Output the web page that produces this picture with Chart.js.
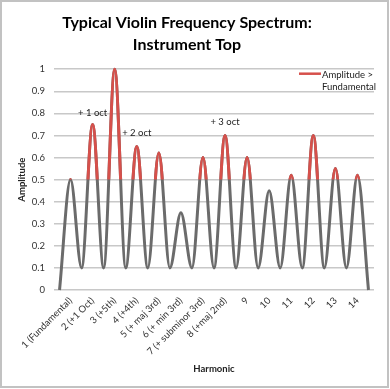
<!DOCTYPE html>
<html>
<head>
<meta charset="utf-8">
<script src="https://cdn.jsdelivr.net/npm/chart.js@4/dist/chart.umd.min.js"></script>
<style>
  html, body { margin: 0; padding: 0; background: #fff; }
  canvas { display: block; }
</style>
</head>
<body>
<canvas id="c" width="390" height="389"></canvas>
<script>
// ---- data ----
const harmonicLabels = ['1 (Fundamental)', '2 (+1 Oct)', '3 (+5th)', '4 (+4th)', '5 (+ maj 3rd)',
  '6 (+ min 3rd)', '7 (+ subminor 3rd)', '8 (+maj 2nd)', '9', '10', '11', '12', '13', '14'];
const harmonicNumbers = [1, 2, 3, 4, 5, 6, 7, 8, 9, 10, 11, 12, 13, 14];
const peakAmplitudes = [0.5, 0.75, 1.0, 0.65, 0.62, 0.35, 0.6, 0.7, 0.6, 0.45, 0.52, 0.7, 0.55, 0.52];
// troughs: before harmonic 1, between each pair, after harmonic 14
const troughPositions = [0.5, 1.5, 2.5, 3.5, 4.5, 5.5, 6.5, 7.5, 8.5, 9.5, 10.5, 11.5, 12.5, 13.5, 14.5];
const troughAmplitudes = [0, 0.1, 0.1, 0.1, 0.1, 0.1, 0.1, 0.1, 0.1, 0.1, 0.1, 0.1, 0.1, 0.1, 0];
const fundamentalLevel = 0.5;
const yTicks = [0, 0.1, 0.2, 0.3, 0.4, 0.5, 0.6, 0.7, 0.8, 0.9, 1];
const noteTexts = ['+ 1 oct', '+ 2 oct', '+ 3 oct'];
const noteX = [2, 4, 8];
const noteY = [0.8, 0.71, 0.76];
const seriesName = 'Amplitude > Fundamental';

// build point list (trough, peak, trough, peak, ..., trough)
const points = [];
for (let i = 0; i < troughPositions.length; i++) {
  points.push({ x: troughPositions[i], y: troughAmplitudes[i] });
  if (i < harmonicNumbers.length) points.push({ x: harmonicNumbers[i], y: peakAmplitudes[i] });
}

const FONT = 'Lato, "Open Sans", sans-serif';
const GRAY = '#6b6b6b';
const RED = '#d6504b';

const redClip = {
  id: 'redClip',
  beforeDatasetDraw(chart, args) {
    if (args.index !== 1) return;
    const ctx = chart.ctx, a = chart.chartArea;
    const yPix = chart.scales.y.getPixelForValue(fundamentalLevel);
    ctx.save();
    ctx.beginPath();
    ctx.rect(a.left - 5, a.top - 10, a.right - a.left + 10, yPix - a.top + 10);
    ctx.clip();
  },
  afterDatasetDraw(chart, args) {
    if (args.index !== 1) return;
    chart.ctx.restore();
  }
};

const extras = {
  id: 'extras',
  afterDraw(chart) {
    const ctx = chart.ctx, xs = chart.scales.x, ys = chart.scales.y, a = chart.chartArea;
    ctx.save();
    // notes
    ctx.font = '9.5px ' + FONT;
    ctx.fillStyle = '#222';
    ctx.textAlign = 'center';
    ctx.textBaseline = 'middle';
    for (let i = 0; i < noteTexts.length; i++) {
      ctx.fillText(noteTexts[i], xs.getPixelForValue(noteX[i]), ys.getPixelForValue(noteY[i]));
    }
    // legend
    const lx = a.right - 74, ly = a.top + 4.5;
    ctx.strokeStyle = RED;
    ctx.lineWidth = 2.5;
    ctx.beginPath();
    ctx.moveTo(lx - 1, ly);
    ctx.lineTo(lx + 21, ly);
    ctx.stroke();
    ctx.textAlign = 'left';
    ctx.fillStyle = '#222';
    const parts = ['Amplitude >', 'Fundamental'];
    ctx.fillText(parts[0], lx + 22, ly + 1.5);
    ctx.fillText(parts[1], lx + 22, ly + 13.5);
    // outer frame
    ctx.strokeStyle = '#c2c2c2';
    ctx.lineWidth = 2;
    ctx.strokeRect(1, 1, 387, 386);
    ctx.restore();
  }
};

new Chart(document.getElementById('c'), {
  type: 'line',
  data: {
    datasets: [
      { label: 'Amplitude', data: points, borderColor: GRAY, borderWidth: 3, order: 1,
        pointRadius: 0, cubicInterpolationMode: 'monotone', clip: 6 },
      { label: seriesName, data: points, borderColor: RED, borderWidth: 3, order: 0,
        pointRadius: 0, cubicInterpolationMode: 'monotone', clip: 6 }
    ]
  },
  options: {
    responsive: false,
    devicePixelRatio: 1,
    animation: false,
    layout: { padding: { top: 0, left: 0, right: 16, bottom: 0 } },
    plugins: {
      legend: { display: false },
      tooltip: { enabled: false },
      title: {
        display: true,
        text: ['Typical Violin Frequency Spectrum:', 'Instrument Top'],
        font: { family: FONT, size: 16, weight: 'bold', lineHeight: 1.35 },
        color: '#000',
        padding: { top: 12, bottom: 14 }
      }
    },
    scales: {
      x: {
        type: 'linear',
        min: 0.25,
        max: 14.75,
        grid: { display: false, drawTicks: false },
        border: { display: false },
        afterBuildTicks: axis => { axis.ticks = harmonicNumbers.map(v => ({ value: v })); },
        afterFit: axis => { axis.height = 99; },
        ticks: {
          autoSkip: false,
          maxRotation: 45,
          minRotation: 45,
          padding: 5,
          color: '#333',
          font: { family: FONT, size: 9.5 },
          callback: v => harmonicLabels[harmonicNumbers.indexOf(v)]
        },
        title: {
          display: true,
          text: 'Harmonic',
          color: '#222',
          font: { family: FONT, size: 9.5, weight: 'bold' },
          padding: { top: 0, bottom: 14.5 }
        }
      },
      y: {
        min: 0,
        max: 1,
        afterBuildTicks: axis => { axis.ticks = yTicks.map(v => ({ value: v })); },
        afterFit: axis => { axis.width = 54; },
        grid: { color: '#c8c8c8', lineWidth: 1.5, drawTicks: false },
        border: { display: false },
        ticks: {
          padding: 9,
          color: '#333',
          font: { family: FONT, size: 9.5 },
          callback: v => String(Math.round(v * 10) / 10)
        },
        title: {
          display: true,
          text: 'Amplitude',
          color: '#222',
          font: { family: FONT, size: 9.5, weight: 'bold' },
          padding: { top: 16.5, bottom: 0 }
        }
      }
    }
  },
  plugins: [redClip, extras]
});
</script>
</body>
</html>
